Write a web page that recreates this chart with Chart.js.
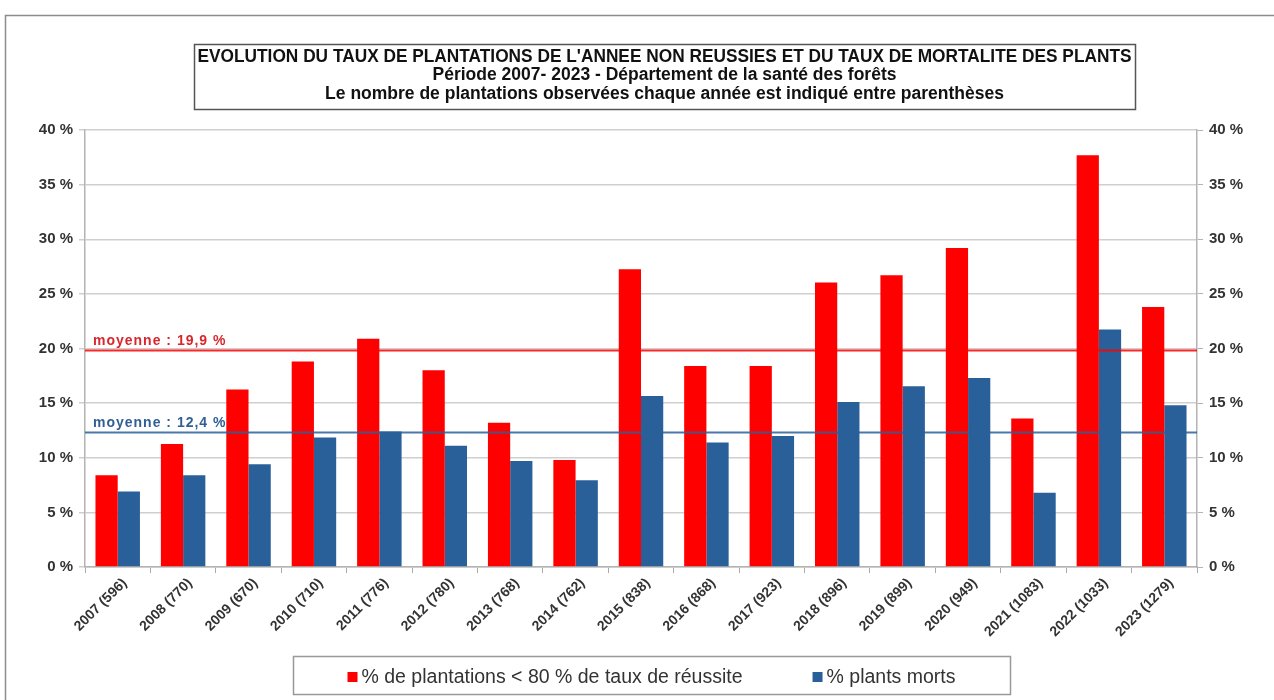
<!DOCTYPE html>
<html>
<head>
<meta charset="utf-8">
<script src="https://cdn.jsdelivr.net/npm/chart.js@4/dist/chart.umd.min.js"></script>
<style>
  html, body { margin: 0; padding: 0; background: #fff; }
  #wrap { width: 1274px; height: 700px; }
</style>
</head>
<body>
<div id="wrap"><canvas id="plantations" width="1274" height="700"></canvas></div>
<script>
// années (nombre de plantations observées)
var annees = ['2007 (596)', '2008 (770)', '2009 (670)', '2010 (710)', '2011 (776)', '2012 (780)',
  '2013 (768)', '2014 (762)', '2015 (838)', '2016 (868)', '2017 (923)', '2018 (896)',
  '2019 (899)', '2020 (949)', '2021 (1083)', '2022 (1033)', '2023 (1279)'];
// % de plantations < 80 % de taux de réussite
var echecs = [8.4, 11.25, 16.25, 18.8, 20.9, 18.0, 13.2, 9.8, 27.25, 18.4, 18.4, 26.05, 26.7, 29.2, 13.6, 37.7, 23.8];
// % plants morts
var morts = [6.9, 8.4, 9.4, 11.85, 12.4, 11.1, 9.7, 7.95, 15.65, 11.4, 12.0, 15.1, 16.55, 17.3, 6.8, 21.75, 14.8];
var moyennes = [19.9, 12.4];
var moyenneTextes = ['moyenne : 19,9 %', 'moyenne : 12,4 %'];
var titre = [
  "EVOLUTION DU TAUX DE PLANTATIONS DE L'ANNEE NON REUSSIES ET DU TAUX DE MORTALITE DES PLANTS",
  'Période 2007- 2023 - Département de la santé des forêts',
  'Le nombre de plantations observées chaque année est indiqué entre parenthèses'
];
var legende = ['% de plantations < 80 % de taux de réussite', '% plants morts'];
var yMax = 40, yPas = 5;

var rouge = '#ff0000';
var bleu = '#2a6099';
var police = "'Liberation Sans', Arial, sans-serif";

// cadre, titre encadré et légende encadrée
var habillage = {
  id: 'habillage',
  beforeDraw: function(chart) {
    var ctx = chart.ctx;
    ctx.save();
    ctx.fillStyle = '#fff';
    ctx.fillRect(0, 0, chart.width, chart.height);
    ctx.strokeStyle = '#8c8c8c';
    ctx.lineWidth = 1.5;
    ctx.beginPath();
    ctx.moveTo(5.5, chart.height);
    ctx.lineTo(5.5, 15.5);
    ctx.lineTo(chart.width, 15.5);
    ctx.stroke();
    ctx.restore();
  },
  afterDraw: function(chart) {
    var ctx = chart.ctx;
    ctx.save();
    // titre
    ctx.strokeStyle = '#555';
    ctx.lineWidth = 1.5;
    ctx.strokeRect(194.5, 44.5, 941, 65);
    ctx.fillStyle = '#111';
    ctx.textAlign = 'center';
    ctx.textBaseline = 'middle';
    var lignesY = [57, 75.5, 94];
    ctx.font = 'bold 17.5px ' + police;
    for (var i = 0; i < titre.length; i++) {
      ctx.fillText(titre[i], 664.5, lignesY[i], 934);
    }
    // légende
    ctx.strokeStyle = '#999';
    ctx.lineWidth = 1.5;
    ctx.strokeRect(293.5, 656.5, 717, 38);
    ctx.font = '19.5px ' + police;
    ctx.textAlign = 'left';
    var couleurs = chart.data.datasets.map(function(d) { return d.backgroundColor; });
    var w0 = ctx.measureText(legende[0]).width;
    var w1 = ctx.measureText(legende[1]).width;
    var ecart = 70, carre = 10, espace = 4;
    var total = carre + espace + w0 + ecart + carre + espace + w1;
    var x = 651.5 - total / 2;
    var yc = 677;
    for (var k = 0; k < 2; k++) {
      ctx.fillStyle = couleurs[k];
      ctx.fillRect(x, yc - 5, carre, carre);
      x += carre + espace;
      ctx.fillStyle = '#333';
      ctx.fillText(legende[k], x, yc + 1);
      x += (k === 0 ? w0 : w1) + ecart;
    }
    ctx.restore();
  }
};

// lignes de moyenne sur toute la largeur de la zone de tracé
var lignesMoyenne = {
  id: 'lignesMoyenne',
  afterDatasetsDraw: function(chart) {
    var ctx = chart.ctx, area = chart.chartArea, y = chart.scales.y;
    var couleurs = [rouge, bleu];
    var texteCouleurs = ['#d9262c', '#2f5f94'];
    ctx.save();
    for (var i = 0; i < moyennes.length; i++) {
      var py = Math.round(y.getPixelForValue(moyennes[i])) + 0.5;
      ctx.strokeStyle = couleurs[i];
      ctx.globalAlpha = 0.85;
      ctx.lineWidth = 2;
      ctx.beginPath();
      ctx.moveTo(area.left, py);
      ctx.lineTo(area.right, py);
      ctx.stroke();
      ctx.globalAlpha = 1;
      ctx.fillStyle = texteCouleurs[i];
      ctx.font = 'bold 14px ' + police;
      ctx.letterSpacing = '1px';
      ctx.textAlign = 'left';
      ctx.textBaseline = 'alphabetic';
      ctx.fillText(moyenneTextes[i], area.left + 8, py - 6);
    }
    ctx.restore();
  }
};

var axeTicks = {
  color: '#333',
  font: { family: police, size: 15, weight: 'bold' },
  stepSize: yPas,
  padding: 6,
  callback: function(v) { return v + ' %'; }
};

new Chart('plantations', {
  type: 'bar',
  data: {
    labels: annees,
    datasets: [
      { label: legende[0], data: echecs, backgroundColor: rouge, yAxisID: 'y',
        categoryPercentage: 0.68, barPercentage: 1.0 },
      { label: legende[1], data: morts, backgroundColor: bleu, yAxisID: 'y',
        categoryPercentage: 0.68, barPercentage: 1.0 }
    ]
  },
  options: {
    responsive: false,
    animation: false,
    layout: { padding: { top: 130, left: 0, right: 0, bottom: 0 } },
    plugins: {
      legend: { display: false },
      title: { display: false },
      tooltip: { enabled: false }
    },
    scales: {
      x: {
        afterFit: function(s) { s.height = 133; },
        grid: { drawOnChartArea: false, color: '#aaa', tickLength: 6, offset: true },
        border: { color: '#b3b3b3', width: 1.5 },
        ticks: {
          color: '#333',
          font: { family: police, size: 14, weight: 'bold' },
          minRotation: 45,
          maxRotation: 45,
          autoSkip: false,
          labelOffset: 7,
          padding: 2
        }
      },
      y: {
        position: 'left',
        min: 0,
        max: yMax,
        afterFit: function(s) { s.width = 85; },
        grid: { color: '#cfcfcf', lineWidth: 1.5, tickLength: 6 },
        border: { color: '#b3b3b3', width: 1.5 },
        ticks: axeTicks
      },
      y1: {
        position: 'right',
        min: 0,
        max: yMax,
        afterFit: function(s) { s.width = 77; },
        grid: { drawOnChartArea: false, color: '#b3b3b3', tickLength: 6 },
        border: { color: '#b3b3b3', width: 1.5 },
        ticks: axeTicks
      }
    }
  },
  plugins: [habillage, lignesMoyenne]
});
</script>
</body>
</html>
